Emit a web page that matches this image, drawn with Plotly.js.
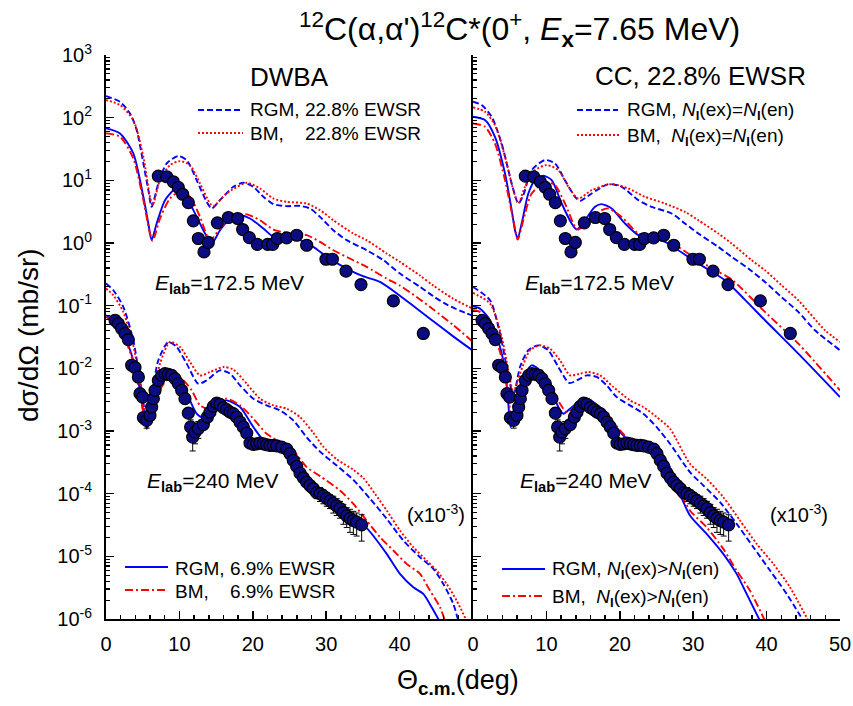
<!DOCTYPE html>
<html><head><meta charset="utf-8">
<script src="https://cdn.plot.ly/plotly-3.0.1.min.js"></script>
<style>body{margin:0;background:#fff}#chart{width:853px;height:706px}</style>
</head><body><div id="chart"></div>
<script>
// ---------------- experimental data (as plotted) ----------------
const theta172 = [7.13, 8.27, 9.17, 9.85, 10.44, 11.22, 11.9, 12.58, 13.35, 13.94, 15.17, 16.67, 17.94, 18.62, 19.53, 20.62, 22.03, 22.71, 23.34, 24.61, 25.98, 27.34, 29.97, 30.84, 32.7, 34.74, 39.15, 43.23];
const sig172 = [11.7, 11.4, 9.5, 7.7, 6.0, 4.4, 2.26, 1.18, 0.72, 1.02, 2.1, 2.55, 2.46, 1.64, 1.22, 0.95, 0.95, 0.95, 1.18, 1.21, 1.33, 0.92, 0.55, 0.55, 0.355, 0.217, 0.119, 0.036];

const theta240 = [1.23, 1.68, 2.13, 2.59, 3.04, 3.50, 3.95, 4.41, 4.63, 5.0,
  5.09, 5.54, 5.99, 6.22, 6.45, 6.68, 7.13, 7.59, 8.04, 8.49,
  8.95, 9.4, 9.85, 10.31, 10.76, 11.22, 11.53, 11.81, 12.13, 12.58,
  13.26, 13.81, 14.17, 14.63, 15.08, 15.53, 15.99, 16.44, 16.9, 17.35,
  17.8, 18.26, 18.71, 19.17, 19.62, 20.07, 20.53, 20.98, 21.44, 21.89,
  22.34, 22.8, 23.25, 23.93, 24.62, 25.07, 25.52, 25.98, 26.43, 26.89,
  27.34, 27.79, 28.25, 28.7, 29.16, 29.61, 30.07, 30.52, 30.97, 31.43,
  31.88, 32.34, 32.79, 33.24, 33.7, 34.15, 34.83];
const sig240 = [0.0585, 0.0518, 0.0431, 0.0358, 0.0287, 0.0112, 0.0103, 0.00728, 0.00394, 0.00348,
  0.00163, 0.00148, 0.00177, 0.00241, 0.00328, 0.00446, 0.00643, 0.00773, 0.00822, 0.00802,
  0.00773, 0.00684, 0.00569, 0.00446, 0.00328, 0.00193, 0.00116, 0.00080, 0.00096, 0.00109,
  0.00127, 0.00167, 0.00200, 0.00247, 0.00279, 0.00266, 0.00236, 0.00219, 0.00200, 0.00189,
  0.00167, 0.00139, 0.00116, 0.000927, 0.000641, 0.000611, 0.000625, 0.000641, 0.000625, 0.000603,
  0.000589, 0.000589, 0.000581, 0.000553, 0.000514, 0.000434, 0.000339, 0.000272, 0.000213, 0.000179,
  0.000153, 0.000135, 0.000120, 0.000104, 0.000100, 0.000092, 0.000084, 0.000077, 0.000070, 0.000064,
  0.000058, 0.0000500, 0.0000443, 0.0000402, 0.0000373, 0.0000351, 0.0000318];
const err240pct = [6, 6, 6, 6, 6, 6, 6, 8, 10, 10,
  20, 25, 20, 12, 10, 8, 6, 6, 6, 6,
  6, 6, 6, 6, 8, 12, 30, 40, 35, 30,
  15, 10, 8, 8, 8, 8, 8, 8, 8, 8,
  8, 8, 10, 10, 12, 12, 12, 12, 12, 12,
  12, 12, 12, 12, 12, 12, 15, 15, 15, 18,
  18, 20, 20, 20, 25, 25, 25, 25, 30, 30,
  30, 35, 35, 40, 40, 40, 45];

// ---------------- calculations: log10 of plotted cross section ----------------
// DWBA, 172.5 MeV
const dw172_rgm228_th = [0, 1.91, 3.27, 4.18, 5.09, 5.77, 6.22, 7.13, 8.27, 9.85, 10.99, 12.35, 13.71, 14.4, 15.53, 17.35, 18.71, 20.07, 21.44, 22.8, 24.62, 26.43, 27.79, 29.16, 30.97, 32.79, 35.51, 37.79, 40.05, 42.78, 44.6, 46.4, 48.2, 50];
const dw172_rgm228_lg = [2.345, 2.254, 2.068, 1.802, 1.27, 0.843, 0.577, 0.95, 1.27, 1.387, 1.323, 1.003, 0.657, 0.551, 0.684, 0.897, 0.961, 0.897, 0.737, 0.62, 0.588, 0.593, 0.551, 0.417, 0.204, 0.045, -0.115, -0.275, -0.488, -0.7, -0.85, -0.98, -1.08, -1.16];
const dw172_bm228_th = [0, 1.91, 3.72, 5.09, 5.99, 6.36, 7.36, 8.72, 10.08, 11.44, 12.81, 14.17, 14.62, 16.44, 19.16, 20.98, 22.8, 24.62, 27.34, 29.16, 30.97, 33.7, 35.51, 38.24, 40.05, 42.78, 44.6, 47.32, 50];
const dw172_bm228_lg = [2.281, 2.201, 1.962, 1.376, 0.737, 0.604, 1.003, 1.243, 1.307, 1.243, 0.95, 0.63, 0.588, 0.79, 0.961, 0.87, 0.71, 0.657, 0.63, 0.524, 0.364, 0.151, 0.045, -0.168, -0.301, -0.52, -0.68, -0.89, -1.05];
const dw172_rgm69_th = [0, 1.91, 3.72, 5.09, 5.77, 6.22, 6.9, 8.04, 9.4, 10.54, 11.9, 13.26, 14.4, 15.53, 16.9, 18.26, 19.62, 21.44, 22.8, 24.62, 26.43, 28.25, 30.07, 32.79, 35.0, 37.33, 40.5, 44.6, 47.3, 50];
const dw172_rgm69_lg = [1.829, 1.749, 1.429, 0.737, 0.311, 0.045, 0.311, 0.684, 0.854, 0.79, 0.524, 0.204, -0.008, 0.204, 0.391, 0.444, 0.391, 0.231, 0.098, 0.071, 0.045, -0.062, -0.222, -0.408, -0.53, -0.62, -0.88, -1.25, -1.49, -1.72];
const dw172_bm69_th = [0, 1.91, 3.72, 5.09, 5.99, 6.36, 7.36, 8.72, 10.08, 11.44, 12.81, 14.17, 15.53, 17.35, 19.03, 20.98, 22.8, 24.62, 27.34, 29.16, 30.97, 33.7, 35.51, 38.24, 40.05, 42.78, 44.6, 47.32, 50];
const dw172_bm69_lg = [1.749, 1.695, 1.349, 0.684, 0.151, 0.035, 0.391, 0.71, 0.817, 0.737, 0.417, 0.045, 0.231, 0.417, 0.46, 0.364, 0.215, 0.162, 0.125, 0.018, -0.115, -0.275, -0.381, -0.568, -0.68, -0.9, -1.06, -1.31, -1.58];
// DWBA, 240 MeV (x10^-3)
const dw240_rgm228_th = [0, 1.0, 2.36, 3.72, 4.63, 5.31, 5.63, 6.22, 7.13, 8.49, 9.63, 10.99, 12.58, 13.71, 15.53, 16.9, 18.26, 20.07, 21.89, 23.71, 25.52, 27.34, 29.16, 31.43, 33.7, 35.97, 38.24, 40.51, 42.78, 44.6, 45.96, 47.32, 48.0];
const dw240_rgm228_lg = [-0.647, -0.754, -1.02, -1.553, -2.192, -2.724, -2.937, -2.458, -1.872, -1.579, -1.659, -1.925, -2.245, -2.192, -2.032, -2.085, -2.272, -2.484, -2.591, -2.671, -2.831, -3.1, -3.33, -3.55, -3.78, -4.08, -4.401, -4.748, -5.014, -5.2, -5.44, -5.76, -6.03];
const dw240_bm228_th = [0, 1.0, 2.36, 3.72, 4.63, 5.31, 5.68, 6.45, 7.36, 8.72, 10.08, 11.44, 12.81, 14.17, 15.98, 17.35, 19.16, 20.98, 22.8, 24.62, 26.43, 28.25, 29.6, 31.43, 33.7, 35.06, 36.65, 38.24, 40.05, 41.87, 43.69, 45.05, 46.41, 47.77, 49.14];
const dw240_bm228_lg = [-0.727, -0.834, -1.1, -1.633, -2.245, -2.724, -2.884, -2.458, -1.925, -1.579, -1.659, -1.899, -2.112, -2.059, -1.979, -2.02, -2.245, -2.484, -2.591, -2.644, -2.777, -3.03, -3.25, -3.45, -3.62, -3.75, -4.002, -4.268, -4.588, -4.854, -5.067, -5.227, -5.44, -5.706, -6.03];
const dw240_rgm69_th = [0, 1.0, 2.36, 3.72, 4.63, 5.54, 6.45, 7.36, 8.72, 10.08, 11.22, 12.35, 13.03, 14.17, 15.08, 16.44, 18.26, 20.07, 21.89, 23.71, 25.07, 26.43, 28.25, 30.52, 32.79, 35.51, 38.24, 40.05, 41.87, 43.23, 44.37, 45.51];
const dw240_rgm69_lg = [-1.153, -1.233, -1.446, -1.872, -2.351, -2.964, -2.671, -2.298, -2.112, -2.192, -2.458, -2.724, -2.777, -2.671, -2.565, -2.511, -2.618, -2.937, -3.203, -3.257, -3.363, -3.576, -3.896, -4.14, -4.34, -4.55, -4.961, -5.28, -5.493, -5.6, -5.813, -6.05];
const dw240_bm69_th = [0, 1.0, 2.36, 3.72, 4.63, 5.63, 6.45, 7.58, 8.95, 10.31, 11.67, 12.81, 13.94, 15.08, 16.44, 18.26, 20.07, 21.89, 23.71, 25.52, 27.34, 29.16, 31.88, 33.7, 35.51, 37.33, 39.15, 40.96, 42.78, 44.14, 45.51, 46.19];
const dw240_bm69_lg = [-1.18, -1.26, -1.473, -1.899, -2.405, -2.937, -2.698, -2.298, -2.112, -2.165, -2.351, -2.591, -2.644, -2.538, -2.484, -2.591, -2.804, -3.044, -3.177, -3.31, -3.576, -3.72, -3.949, -4.162, -4.428, -4.694, -4.907, -5.12, -5.28, -5.547, -5.813, -6.03];
// CC, 172.5 MeV
const cc172_rgmeq_th = [0, 1.18, 2.54, 3.9, 5.27, 6.18, 6.86, 8.0, 9.81, 11.17, 12.53, 13.9, 14.58, 16.17, 18.44, 20.25, 22.53, 24.34, 27.07, 28.88, 30.7, 33.42, 35.24, 37.51, 39.78, 42.0, 44.32, 46.59, 50];
const cc172_rgmeq_lg = [2.254, 2.201, 2.015, 1.589, 0.95, 0.63, 0.764, 1.163, 1.323, 1.27, 1.003, 0.737, 0.673, 0.79, 0.939, 0.897, 0.684, 0.577, 0.471, 0.311, 0.151, -0.062, -0.222, -0.408, -0.621, -0.86, -1.1, -1.393, -1.712];
const cc172_bmeq_th = [0, 1.63, 2.99, 4.36, 5.5, 6.18, 7.08, 8.45, 10.04, 11.63, 12.99, 14.35, 16.17, 18.89, 21.16, 23.43, 26.16, 28.88, 30.7, 33.42, 35.24, 37.96, 39.78, 42.0, 44.32, 47.96, 50];
const cc172_bmeq_lg = [2.164, 2.095, 1.882, 1.376, 0.843, 0.63, 0.897, 1.163, 1.243, 1.163, 0.897, 0.71, 0.843, 0.939, 0.87, 0.737, 0.63, 0.497, 0.364, 0.151, -0.008, -0.275, -0.435, -0.67, -0.914, -1.393, -1.579];
const cc172_rgmgt_th = [0, 1.63, 2.99, 4.36, 5.27, 5.72, 6.09, 6.63, 7.54, 8.45, 9.58, 10.72, 12.08, 13.44, 14.12, 15.26, 16.62, 17.53, 18.89, 20.71, 22.53, 24.34, 26.16, 27.98, 30.7, 34.33, 37.0, 39.78, 44.32, 50];
const cc172_rgmgt_lg = [2.015, 1.962, 1.695, 1.11, 0.524, 0.204, 0.071, 0.311, 0.79, 1.003, 1.072, 1.003, 0.63, 0.311, 0.215, 0.364, 0.577, 0.62, 0.551, 0.311, 0.125, 0.071, 0.018, -0.115, -0.328, -0.594, -0.9, -1.233, -1.766, -2.458];
const cc172_bmgt_th = [0, 1.63, 2.99, 4.36, 5.5, 6.09, 6.86, 8.0, 10.04, 11.17, 12.53, 13.9, 14.35, 15.71, 17.53, 18.44, 20.25, 22.53, 24.34, 26.16, 27.98, 30.7, 33.42, 35.24, 39.78, 44.32, 50];
const cc172_bmgt_lg = [1.908, 1.855, 1.589, 1.003, 0.364, 0.055, 0.364, 0.79, 0.976, 0.923, 0.63, 0.258, 0.215, 0.364, 0.524, 0.551, 0.417, 0.151, 0.098, 0.071, -0.062, -0.275, -0.46, -0.58, -1.1, -1.606, -2.351];
// CC, 240 MeV (x10^-3)
const cc240_rgmeq_th = [0, 2.32, 3.68, 4.59, 5.27, 5.59, 6.4, 7.54, 8.9, 10.26, 11.63, 13.12, 14.58, 15.49, 16.85, 18.21, 19.57, 21.39, 23.21, 25.02, 26.84, 29.56, 31.38, 33.65, 35.92, 38.2, 40.47, 42.74, 45.01];
const cc240_rgmeq_lg = [-0.701, -0.914, -1.446, -1.979, -2.35, -2.4, -1.979, -1.712, -1.633, -1.712, -1.979, -2.234, -2.165, -2.112, -2.138, -2.272, -2.458, -2.591, -2.724, -2.937, -3.204, -3.656, -3.869, -4.135, -4.481, -4.854, -5.227, -5.6, -6.03];
const cc240_bmeq_th = [0, 2.32, 3.91, 4.81, 5.49, 6.4, 7.77, 9.13, 10.49, 11.85, 13.22, 14.58, 15.72, 17.3, 19.13, 21.39, 23.21, 25.02, 26.84, 29.56, 31.83, 34.1, 36.37, 38.65, 40.92, 43.19, 45.69];
const cc240_bmeq_lg = [-0.797, -0.967, -1.5, -2.032, -2.38, -2.085, -1.712, -1.633, -1.686, -1.872, -2.112, -2.085, -2.059, -2.112, -2.298, -2.511, -2.618, -2.777, -2.964, -3.523, -3.763, -4.055, -4.428, -4.801, -5.12, -5.493, -6.03];
const cc240_rgmgt_th = [0, 0.95, 2.32, 3.68, 4.36, 4.81, 5.13, 5.95, 6.86, 7.99, 9.13, 10.49, 11.63, 12.31, 13.22, 14.58, 15.26, 16.4, 17.76, 19.13, 20.94, 22.75, 25.02, 26.5, 28.0, 29.56, 31.83, 34.1, 35.92, 37.28, 39.1];
const cc240_rgmgt_lg = [-1.01, -1.047, -1.233, -1.659, -2.032, -2.564, -2.937, -2.564, -2.138, -1.952, -2.032, -2.298, -2.618, -2.724, -2.644, -2.511, -2.474, -2.538, -2.671, -2.884, -3.124, -3.23, -3.31, -3.5, -3.95, -4.348, -4.641, -4.961, -5.28, -5.6, -6.03];
const cc240_bmgt_th = [0, 0.95, 2.32, 3.68, 4.5, 5.13, 5.4, 6.18, 7.31, 8.45, 9.36, 10.72, 11.85, 12.76, 13.9, 15.26, 16.62, 18.21, 20.03, 21.84, 24.11, 25.93, 27.5, 29.56, 31.83, 34.1, 35.92, 37.74, 39.78];
const cc240_bmgt_lg = [-1.073, -1.1, -1.313, -1.739, -2.192, -2.724, -2.857, -2.511, -2.192, -2.032, -2.032, -2.298, -2.564, -2.698, -2.618, -2.538, -2.564, -2.724, -2.99, -3.204, -3.31, -3.39, -3.8, -4.268, -4.535, -4.881, -5.227, -5.547, -6.03];

// tick labels
const xTicksLeft = [0, 10, 20, 30, 40];
const xTicksRight = [0, 10, 20, 30, 40, 50];
const yTickExp = [-6, -5, -4, -3, -2, -1, 0, 1, 2, 3];

// ---------------- drawing ----------------
const FONT = 'Liberation Sans, Arial, Helvetica, sans-serif';
const BLUE = '#0000ff', RED = '#ff0000';
const DASH = '6px,3px', DOT = '2px,2px', DASHDOT = '8px,3px,2px,3px';
const L = 106, R = 840, T = 55, B = 619;
const px = x => (x - L) / (R - L);
const py = y => (B - y) / (B - T);
const pow10 = a => a.map(v => Math.pow(10, v));

function curve(th, lg, panel, color, dash) {
  return { x: th, y: pow10(lg), xaxis: panel === 'L' ? 'x' : 'x2', yaxis: panel === 'L' ? 'y' : 'y2',
    type: 'scatter', mode: 'lines', showlegend: false, hoverinfo: 'skip',
    line: { color: color, dash: dash, width: 1.9, shape: 'spline', smoothing: 0.7 } };
}
function dataTrace(th, sg, panel, err) {
  const t = { x: th, y: sg, xaxis: panel === 'L' ? 'x' : 'x2', yaxis: panel === 'L' ? 'y' : 'y2',
    type: 'scatter', mode: 'markers', showlegend: false, hoverinfo: 'skip',
    marker: { symbol: 'circle', size: 12, color: '#0c0c82', line: { color: '#000', width: 1.2 } } };
  if (err) t.error_y = { type: 'data', array: sg.map((v, i) => v * err[i] / 100), color: '#000', thickness: 1, width: 3 };
  return t;
}

const traces = [
  curve(dw172_rgm228_th, dw172_rgm228_lg, 'L', BLUE, DASH),
  curve(dw172_bm228_th, dw172_bm228_lg, 'L', RED, DOT),
  curve(dw172_rgm69_th, dw172_rgm69_lg, 'L', BLUE, 'solid'),
  curve(dw172_bm69_th, dw172_bm69_lg, 'L', RED, DASHDOT),
  curve(dw240_rgm228_th, dw240_rgm228_lg, 'L', BLUE, DASH),
  curve(dw240_bm228_th, dw240_bm228_lg, 'L', RED, DOT),
  curve(dw240_rgm69_th, dw240_rgm69_lg, 'L', BLUE, 'solid'),
  curve(dw240_bm69_th, dw240_bm69_lg, 'L', RED, DASHDOT),
  curve(cc172_rgmeq_th, cc172_rgmeq_lg, 'R', BLUE, DASH),
  curve(cc172_bmeq_th, cc172_bmeq_lg, 'R', RED, DOT),
  curve(cc172_rgmgt_th, cc172_rgmgt_lg, 'R', BLUE, 'solid'),
  curve(cc172_bmgt_th, cc172_bmgt_lg, 'R', RED, DASHDOT),
  curve(cc240_rgmeq_th, cc240_rgmeq_lg, 'R', BLUE, DASH),
  curve(cc240_bmeq_th, cc240_bmeq_lg, 'R', RED, DOT),
  curve(cc240_rgmgt_th, cc240_rgmgt_lg, 'R', BLUE, 'solid'),
  curve(cc240_bmgt_th, cc240_bmgt_lg, 'R', RED, DASHDOT),
  dataTrace(theta240, sig240, 'L', err240pct),
  dataTrace(theta240, sig240, 'R', err240pct),
  dataTrace(theta172, sig172, 'L', null),
  dataTrace(theta172, sig172, 'R', null)
];

const minorY = [];
for (let d = -6; d < 3; d++) for (let k = 2; k <= 9; k++) minorY.push(k * Math.pow(10, d));

function xAxis(dom, anchor, vals) {
  return { domain: dom, anchor: anchor, range: [0, 50], showline: true, linecolor: '#000', linewidth: 2,
    ticks: 'inside', ticklen: 8, tickwidth: 1.5, tickcolor: '#000', tickmode: 'array', tickvals: vals,
    ticktext: vals.map(String), showgrid: false, zeroline: false, ticklabelstandoff: 6,
    tickfont: { family: FONT, size: 20, color: '#000' },
    minor: { tickmode: 'linear', tick0: 0, dtick: 2, ticks: 'inside', ticklen: 4, tickwidth: 1.5, tickcolor: '#000', showgrid: false } };
}
function yAxis(anchor, labels) {
  return { type: 'log', range: [-6, 3], domain: [0, 1], anchor: anchor, showline: true, linecolor: '#000', linewidth: 2,
    ticks: 'inside', ticklen: 8, tickwidth: 1.5, tickcolor: '#000', tickmode: 'array',
    tickvals: yTickExp.map(e => Math.pow(10, e)), ticktext: yTickExp.map(e => '10<sup>' + e + '</sup>'),
    showticklabels: labels, showgrid: false, zeroline: false, ticklabelstandoff: 8,
    tickfont: { family: FONT, size: 20, color: '#000' },
    minor: { tickmode: 'array', tickvals: minorY, ticks: 'inside', ticklen: 4, tickwidth: 1.2, tickcolor: '#000', showgrid: false } };
}

function note(text, x, y, size, anchor, extra) {
  return Object.assign({ text: text, xref: 'paper', yref: 'paper', x: px(x), y: py(y), showarrow: false,
    xanchor: anchor || 'center', yanchor: 'middle', font: { family: FONT, size: size, color: '#000' } }, extra || {});
}
function legLine(x0, x1, y, color, dash) {
  return { type: 'line', xref: 'paper', yref: 'paper', x0: px(x0), x1: px(x1), y0: py(y), y1: py(y),
    line: { color: color, dash: dash, width: 1.9 } };
}

const Elab = '<i>E</i><sub><b>lab</b></sub>';
const Nl = '<i>N</i><sub><b>l</b></sub>';
const annotations = [
  note('<sup>12</sup>C(α,α\')<sup>12</sup>C*(0<sup>+</sup>, <i>E</i><sub><b>x</b></sub>=7.65 MeV)', 519, 30, 32),
  note('DWBA', 289, 77, 26),
  note('CC, 22.8% EWSR', 700, 76, 26),
  note('RGM, 22.8% EWSR', 248, 110, 19, 'left'),
  note('BM,&nbsp;&nbsp;&nbsp;&nbsp;22.8% EWSR', 248, 133, 19, 'left'),
  note('RGM, ' + Nl + '(ex)=' + Nl + '(en)', 625, 111, 19, 'left'),
  note('BM,&nbsp;&nbsp;' + Nl + '(ex)=' + Nl + '(en)', 625, 137, 19, 'left'),
  note(Elab + '=172.5 MeV', 153, 284, 21, 'left'),
  note(Elab + '=172.5 MeV', 523, 284, 21, 'left'),
  note(Elab + '=240 MeV', 145, 482, 21, 'left'),
  note(Elab + '=240 MeV', 518, 482, 21, 'left'),
  note('(x10<sup>-3</sup>)', 405, 513, 20, 'left'),
  note('(x10<sup>-3</sup>)', 768, 513, 20, 'left'),
  note('RGM, 6.9% EWSR', 173, 568, 19, 'left'),
  note('BM,&nbsp;&nbsp;&nbsp;&nbsp;6.9% EWSR', 173, 591, 19, 'left'),
  note('RGM, ' + Nl + '(ex)>' + Nl + '(en)', 550, 570, 19, 'left'),
  note('BM,&nbsp;&nbsp;' + Nl + '(ex)>' + Nl + '(en)', 550, 598, 19, 'left'),
  note('Θ<sub><b>c.m.</b></sub>(deg)', 458, 682, 27),
  note('dσ/dΩ (mb/sr)', 28, 335, 28, 'center', { textangle: -90 })
];
const shapes = [
  legLine(198, 241, 110, BLUE, DASH),
  legLine(198, 243, 133, RED, DOT),
  legLine(577, 618, 110, BLUE, DASH),
  legLine(577, 620, 135, RED, DOT),
  legLine(125, 168, 567, BLUE, 'solid'),
  legLine(125, 168, 590, RED, DASHDOT),
  legLine(502, 545, 569, BLUE, 'solid'),
  legLine(502, 545, 596, RED, DASHDOT)
];

const layout = {
  width: 853, height: 706,
  margin: { l: L, r: 853 - R, t: T, b: 706 - B, pad: 0 },
  paper_bgcolor: '#ffffff', plot_bgcolor: 'rgba(0,0,0,0)',
  showlegend: false,
  font: { family: FONT, color: '#000' },
  xaxis: xAxis([0, 0.5], 'y', xTicksLeft),
  xaxis2: xAxis([0.5, 1], 'y2', xTicksRight),
  yaxis: yAxis('x', true),
  yaxis2: yAxis('x2', false),
  annotations: annotations,
  shapes: shapes
};

Plotly.newPlot('chart', traces, layout, { displayModeBar: false, staticPlot: true });
</script>
</body></html>
